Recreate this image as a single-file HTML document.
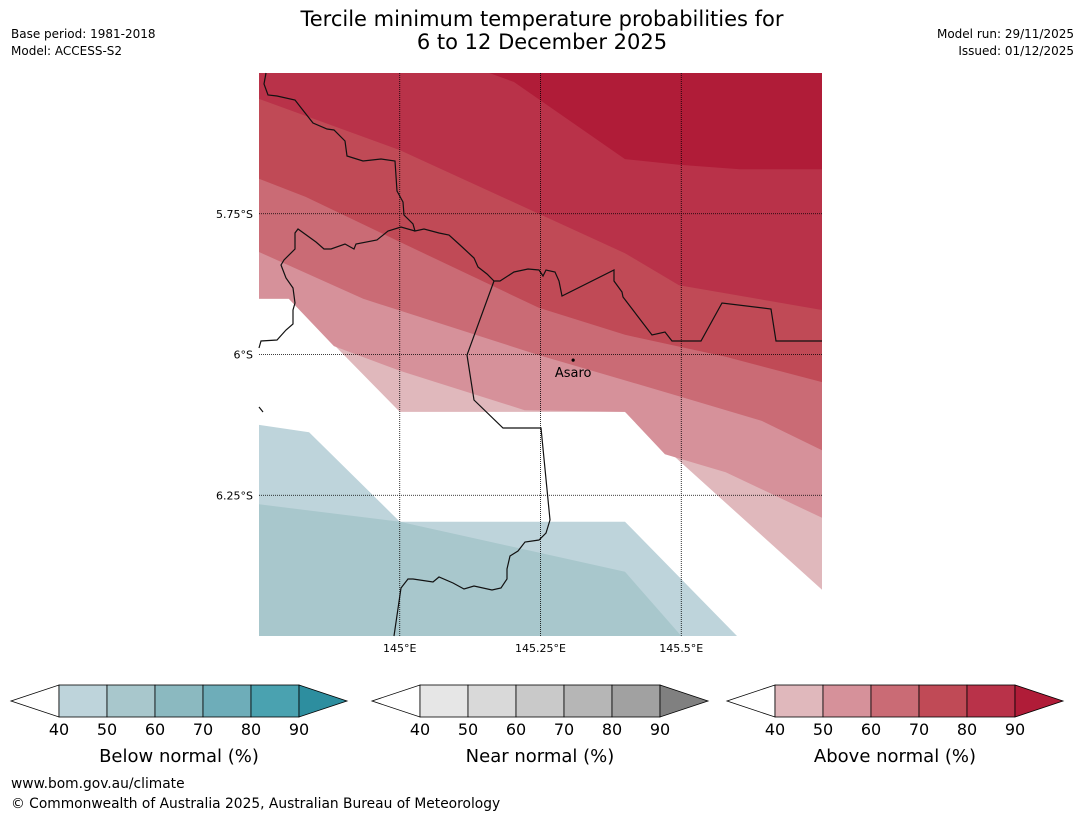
<!DOCTYPE html>
<html><head><meta charset="utf-8"><style>
html,body{margin:0;padding:0;background:#fff;}
svg{display:block;font-family:"DejaVu Sans","Liberation Sans",sans-serif;}
</style></head><body>
<svg id="chart" width="1085" height="816" viewBox="0 0 1085 816">
<rect width="1085" height="816" fill="#fff"/>
<text x="542" y="26" text-anchor="middle" font-size="21">Tercile minimum temperature probabilities for</text>
<text x="542" y="49" text-anchor="middle" font-size="21">6 to 12 December 2025</text>
<text x="11" y="38" font-size="12">Base period: 1981-2018</text>
<text x="11" y="55" font-size="12">Model: ACCESS-S2</text>
<text x="1074" y="38" font-size="12" text-anchor="end">Model run: 29/11/2025</text>
<text x="1074" y="55" font-size="12" text-anchor="end">Issued: 01/12/2025</text>
<defs><clipPath id="mc"><rect x="259" y="73" width="563" height="563"/></clipPath></defs>
<g id="map" clip-path="url(#mc)"></g>
<g id="overlay"></g>
<g id="bars"></g>
<text x="11" y="788" font-size="13.8">www.bom.gov.au/climate</text>
<text x="11" y="808" font-size="13.8">© Commonwealth of Australia 2025, Australian Bureau of Meteorology</text>
</svg>
<script>
// map extent
const lonMin=144.75, lonMax=145.75, latMax=-5.5, latMin=-6.5;
const lonTicks=[145.0,145.25,145.5];
const lonTickLabels=['145°E','145.25°E','145.5°E'];
const latTicks=[-5.75,-6.0,-6.25];
const latTickLabels=['5.75°S','6°S','6.25°S'];
// above-normal band lower boundaries [lon,lat]
const above40=[[144.75,-5.901],[144.803,-5.901],[145.0,-6.102],[145.4,-6.102],[145.75,-6.418]];
const above50=[[144.75,-5.901],[144.803,-5.901],[144.883,-5.985],[145.0,-6.029],[145.222,-6.099],[145.4,-6.102],[145.471,-6.177],[145.579,-6.209],[145.75,-6.29]];
const above60=[[144.75,-5.818],[144.935,-5.901],[145.247,-6.001],[145.496,-6.074],[145.643,-6.118],[145.75,-6.17]];
const above70=[[144.75,-5.688],[144.833,-5.72],[145.0,-5.8],[145.247,-5.917],[145.4,-5.965],[145.579,-6.004],[145.75,-6.049]];
const above80=[[144.75,-5.546],[145.0,-5.637],[145.4,-5.82],[145.496,-5.877],[145.75,-5.921]];
const above90=[[145.159,-5.5],[145.203,-5.516],[145.4,-5.653],[145.496,-5.663],[145.604,-5.671],[145.75,-5.671]];
// below-normal band upper boundaries
const below40=[[144.75,-6.125],[144.839,-6.138],[145.0,-6.297],[145.4,-6.297],[145.599,-6.5]];
const below50=[[144.75,-6.266],[145.0,-6.297],[145.4,-6.386],[145.5,-6.5]];
const aboveBands=[above40,above50,above60,above70,above80];
const aboveColors=['#e0b8bc','#d6919a','#ca6b75','#c04a56','#b93249'];
const place={name:'Asaro',lon:145.308,lat:-6.010};
const X=l=>259+(l-lonMin)/(lonMax-lonMin)*563;
const Y=l=>73+(latMax-l)/(latMax-latMin)*563;
const NS='http://www.w3.org/2000/svg';
function mk(tag,attrs,parent){const e=document.createElementNS(NS,tag);for(const k in attrs)e.setAttribute(k,attrs[k]);parent.appendChild(e);return e;}
const map=document.getElementById('map');
const pts=a=>a.map(p=>X(p[0]).toFixed(1)+','+Y(p[1]).toFixed(1)).join(' ');
aboveBands.forEach((b,i)=>{
  const poly=b.concat([[lonMax,latMax],[lonMin,latMax]]);
  const e=mk('polygon',{points:pts(poly),fill:aboveColors[i]},map);
  
  
});
{const e=mk('polygon',{points:pts(above90.concat([[lonMax,latMax]])),fill:'#b01c38'},map);

}
[[below40,'#bed4db'],[below50,'#a8c7cc']].forEach((b,i)=>{
  const e=mk('polygon',{points:pts(b[0].concat([[lonMin,latMin]])),fill:b[1]},map);
  
  
});
const ov=document.getElementById('overlay');
const borders=[
"M266,73 L264,84 L268,95 L277,96 L295,100 L302,109 L313,123 L327,129 L334,130 L345,141 L347,156 L363,161 L381,159 L395,161 L397,191 L403,202 L404,215 L413,224 L415,231 L424,229 L439,233 L449,235 L460,245 L474,258 L478,267 L487,274 L494,281 L500,281 L514,272 L528,269 L539,270 L543,276 L546,270 L555,272 L559,281 L562,296 L614,270 L614,281 L622,292 L623,297 L652,335 L665,332 L672,341 L701,341 L722,303 L771,309 L776,341 L822,341",
"M415,231 L401,227 L388,231 L377,240 L356,244 L354,249 L345,244 L331,249 L324,249 L316,242 L298,229 L295,233 L295,249 L284,260 L281,265 L286,278 L293,288 L295,303 L293,310 L293,324 L286,330 L277,340 L261,341 L259,348",
"M494,281 L467,355 L474,400 L503,428 L541,428 L550,520 L546,533 L539,540 L525,542 L518,551 L510,556 L507,569 L507,579 L501,588 L492,590 L474,586 L464,589 L453,583 L439,577 L433,582 L413,579 L408,579 L401,588 L394,636",
"M259,407 L263,412"];
borders.forEach((d,i)=>{const e=mk('path',{d:d,fill:'none',stroke:'#111','stroke-width':1.2},ov);

});
lonTicks.forEach((l,i)=>{
  const g=mk('line',{x1:X(l),x2:X(l),y1:73,y2:636,stroke:'#000','stroke-width':0.8,'stroke-dasharray':'1,1'},ov);
  
  
  const t=mk('text',{x:X(l),y:652,'font-size':11,'text-anchor':'middle'},ov);t.textContent=lonTickLabels[i];
  
  
});
latTicks.forEach((l,i)=>{
  const g=mk('line',{x1:259,x2:822,y1:Y(l),y2:Y(l),stroke:'#000','stroke-width':0.8,'stroke-dasharray':'1,1'},ov);
  
  
  const t=mk('text',{x:253,y:Y(l)+4,'font-size':11,'text-anchor':'end'},ov);t.textContent=latTickLabels[i];
  
  
});
{const c=mk('circle',{cx:X(place.lon),cy:Y(place.lat),r:1.6,fill:'#000'},ov);


const t=mk('text',{x:X(place.lon),y:Y(place.lat)+17,'font-size':13,'text-anchor':'middle'},ov);t.textContent=place.name;

}
const cbTicks=[40,50,60,70,80,90];
const cbDefs=[
 {x:11,title:'Below normal (%)',name:'below-normal',cols:['#fff','#bed4db','#a8c7cc','#8bb9c0','#6eadb9','#4aa2b0','#2d8e9f']},
 {x:372,title:'Near normal (%)',name:'near-normal',cols:['#fff','#e6e6e6','#d9d9d9','#c9c9c9','#b6b6b6','#a1a1a1','#808080']},
 {x:727,title:'Above normal (%)',name:'above-normal',cols:['#fff','#e0b8bc','#d6919a','#ca6b75','#c04a56','#b93249','#b01c38']}];
const bars=document.getElementById('bars');
cbDefs.forEach(cb=>{
  const g=mk('g',{},bars);
  
  
  const x0=cb.x+48, top=685, h=32, w=48;
  mk('polygon',{points:`${cb.x},${top+h/2} ${x0},${top} ${x0},${top+h}`,fill:cb.cols[0],stroke:'#000','stroke-width':0.8},g);
  for(let i=0;i<5;i++){const r=mk('rect',{x:x0+i*w,y:top,width:w,height:h,fill:cb.cols[i+1],stroke:'#000','stroke-width':0.8},g);
    
    }
  mk('polygon',{points:`${x0+5*w},${top} ${x0+6*w},${top+h/2} ${x0+5*w},${top+h}`,fill:cb.cols[6],stroke:'#000','stroke-width':0.8},g);
  cbTicks.forEach((v,i)=>{const t=mk('text',{x:x0+i*w,y:735,'font-size':16,'text-anchor':'middle'},g);t.textContent=v;
    
    });
  const t=mk('text',{x:x0+120,y:762,'font-size':18,'text-anchor':'middle'},g);t.textContent=cb.title;
  
  
});
</script>
</body></html>
